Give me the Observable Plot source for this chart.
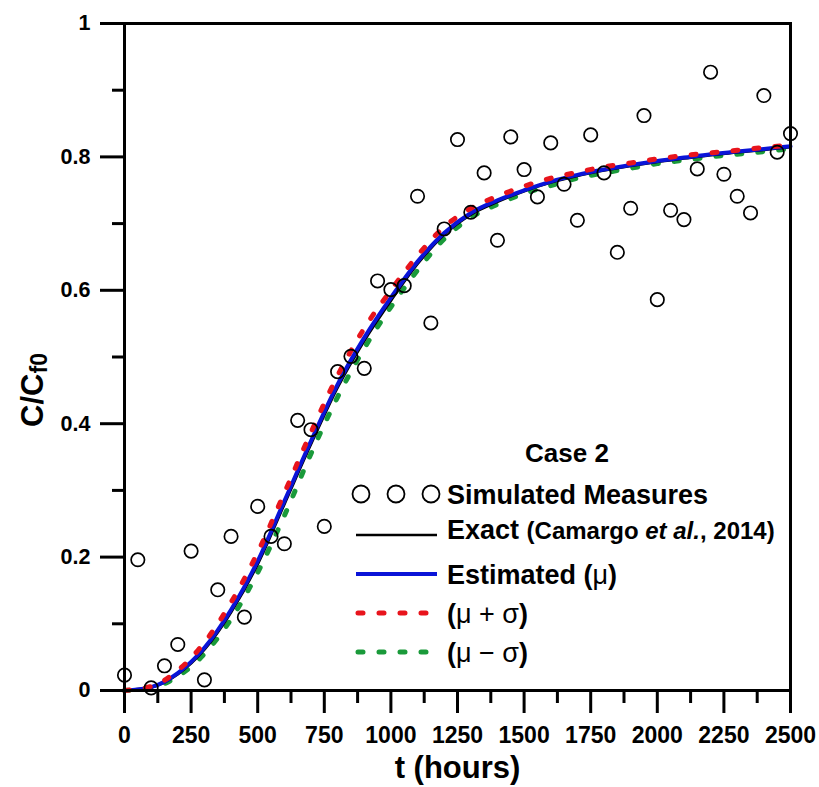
<!DOCTYPE html>
<html>
<head>
<meta charset="utf-8">
<script src="https://cdn.jsdelivr.net/npm/d3@7"></script>
<script src="https://cdn.jsdelivr.net/npm/@observablehq/plot@0.6"></script>
<style>
  html, body { margin: 0; padding: 0; background: #fff; }
</style>
</head>
<body>
<div id="chart"></div>
<script>
// ---- Data ----
const tMeasured = [0,50,100,150,200,250,300,350,400,450,500,550,600,650,700,750,800,850,900,950,1000,1050,1100,1150,1200,1250,1300,1350,1400,1450,1500,1550,1600,1650,1700,1750,1800,1850,1900,1950,2000,2050,2100,2150,2200,2250,2300,2350,2400,2450,2500];
const measured = [0.023,0.196,0.004,0.037,0.069,0.209,0.016,0.151,0.231,0.110,0.276,0.231,0.220,0.405,0.391,0.246,0.478,0.501,0.483,0.614,0.601,0.607,0.741,0.551,0.692,0.826,0.717,0.776,0.675,0.830,0.781,0.740,0.821,0.759,0.705,0.833,0.776,0.657,0.723,0.862,0.586,0.720,0.706,0.782,0.927,0.774,0.741,0.716,0.892,0.807,0.835];

const tCurve = [0,100,200,300,400,500,600,700,800,900,1000,1100,1200,1300,1400,1500,1600,1700,1800,1900,2000,2100,2200,2300,2400,2500];
const exact     = [0,0.005,0.025,0.062,0.118,0.190,0.280,0.370,0.455,0.525,0.585,0.640,0.684,0.714,0.733,0.749,0.762,0.772,0.780,0.787,0.793,0.798,0.803,0.807,0.811,0.815];
const estimated = [0,0.005,0.026,0.064,0.121,0.194,0.284,0.374,0.459,0.529,0.589,0.643,0.686,0.716,0.735,0.750,0.763,0.773,0.781,0.788,0.794,0.799,0.804,0.808,0.812,0.816];
const upper     = [0,0.006,0.030,0.072,0.132,0.207,0.296,0.387,0.472,0.543,0.600,0.652,0.695,0.723,0.741,0.756,0.768,0.777,0.785,0.791,0.797,0.802,0.806,0.810,0.814,0.818];
const lower     = [0,0.004,0.021,0.055,0.107,0.177,0.262,0.355,0.440,0.513,0.575,0.630,0.677,0.709,0.729,0.745,0.757,0.768,0.776,0.783,0.790,0.795,0.800,0.804,0.808,0.812];

const xMajor = [0,250,500,750,1000,1250,1500,1750,2000,2250,2500];
const xMinor = [125,375,625,875,1125,1375,1625,1875,2125,2375];
const yMajor = [0,0.2,0.4,0.6,0.8,1];
const yMinor = [0.1,0.3,0.5,0.7,0.9];

const points = tMeasured.map((t, i) => ({t, v: measured[i]}));
const curve = arr => tCurve.map((t, i) => ({t, v: arr[i]}));

const FONT = "'Liberation Sans', Arial, Helvetica, sans-serif";

const svg = Plot.plot({
  width: 819,
  height: 787,
  marginLeft: 124,
  marginRight: 29,
  marginTop: 23,
  marginBottom: 97,
  style: {fontFamily: FONT, fontWeight: "bold", color: "black", background: "white"},
  x: {domain: [0, 2500], label: null},
  y: {domain: [0, 1], label: null},
  marks: [
    Plot.line(curve(lower), {x: "t", y: "v", stroke: "#1a9a3a", strokeWidth: 5, strokeDasharray: "5,16", strokeLinecap: "round", curve: "monotone-x"}),
    Plot.line(curve(exact), {x: "t", y: "v", stroke: "black", strokeWidth: 3.2, curve: "monotone-x"}),
    Plot.line(curve(estimated), {x: "t", y: "v", stroke: "#0a14d8", strokeWidth: 4, curve: "monotone-x"}),
    Plot.line(curve(upper), {x: "t", y: "v", stroke: "#e8141c", strokeWidth: 5, strokeDasharray: "5,16", strokeLinecap: "round", curve: "monotone-x"}),
    Plot.dot(points, {x: "t", y: "v", r: 6.7, stroke: "black", strokeWidth: 1.7, fill: "none"}),
    Plot.axisX({ticks: xMajor, tickSize: 23, tickPadding: 13, strokeWidth: 3, fontSize: 23, tickFormat: d => String(d), label: null}),
    Plot.axisX({ticks: xMinor, tickSize: 13, strokeWidth: 3, tickFormat: () => "", label: null}),
    Plot.axisY({ticks: yMajor, tickSize: 24, tickPadding: 10, strokeWidth: 3, fontSize: 21.5, tickFormat: d => String(+d.toFixed(1)), label: null}),
    Plot.axisY({ticks: yMinor, tickSize: 12, strokeWidth: 3, tickFormat: () => "", label: null}),
    Plot.frame({stroke: "black", strokeWidth: 3}),
    Plot.text(["t (hours)"], {frameAnchor: "bottom", dy: 78, fontSize: 31, fontWeight: "bold", lineAnchor: "middle"})
  ]
});
document.getElementById("chart").append(svg);

const root = d3.select(svg);

// ---- Y axis title with sub-scripted f0 ----
const yt = root.append("text")
  .attr("transform", "translate(43,390) rotate(-90)")
  .attr("text-anchor", "middle")
  .attr("font-family", FONT)
  .attr("font-weight", "bold")
  .attr("fill", "black");
yt.append("tspan").attr("font-size", 31).text("C/C");
yt.append("tspan").attr("font-size", 23).attr("dy", 4).text("f0");

// ---- Legend ----
const lg = root.append("g").attr("font-family", FONT).attr("fill", "black").attr("text-anchor", "start");
const textX = 447;
lg.append("text").attr("x", 567).attr("y", 453).attr("dy", "0.36em").attr("text-anchor", "middle")
  .attr("font-size", 26).attr("font-weight", "bold").text("Case 2");

const rows = [494, 535, 574, 613, 652];
[361, 396, 431].forEach(cx => lg.append("circle").attr("cx", cx).attr("cy", rows[0]).attr("r", 8.5)
  .attr("fill", "none").attr("stroke", "black").attr("stroke-width", 1.8));
lg.append("text").attr("x", textX).attr("y", rows[0]).attr("dy", "0.36em").attr("font-size", 27).attr("font-weight", "bold").text("Simulated Measures");

lg.append("line").attr("x1", 356).attr("x2", 437).attr("y1", rows[1]).attr("y2", rows[1]).attr("stroke", "black").attr("stroke-width", 2.5);
const ex = lg.append("text").attr("x", textX).attr("y", rows[1]).attr("dy", "0.36em").attr("font-weight", "bold");
ex.append("tspan").attr("font-size", 27).text("Exact ");
ex.append("tspan").attr("font-size", 24).text("(Camargo ");
ex.append("tspan").attr("font-size", 24).attr("font-style", "italic").text("et al.");
ex.append("tspan").attr("font-size", 24).text(", 2014)");

lg.append("line").attr("x1", 356).attr("x2", 437).attr("y1", rows[2]).attr("y2", rows[2]).attr("stroke", "#0a14d8").attr("stroke-width", 4);
const es = lg.append("text").attr("x", textX).attr("y", rows[2]).attr("dy", "0.36em").attr("font-size", 27);
es.append("tspan").attr("font-weight", "bold").text("Estimated (");
es.append("tspan").attr("font-weight", "normal").text("μ");
es.append("tspan").attr("font-weight", "bold").text(")");

lg.append("line").attr("x1", 358).attr("x2", 437).attr("y1", rows[3]).attr("y2", rows[3]).attr("stroke", "#e8141c").attr("stroke-width", 5).attr("stroke-dasharray", "5,16").attr("stroke-linecap", "round");
const up = lg.append("text").attr("x", textX).attr("y", rows[3]).attr("dy", "0.36em").attr("font-size", 27);
up.append("tspan").attr("font-weight", "bold").text("(");
up.append("tspan").attr("font-weight", "normal").text("μ + σ");
up.append("tspan").attr("font-weight", "bold").text(")");

lg.append("line").attr("x1", 358).attr("x2", 437).attr("y1", rows[4]).attr("y2", rows[4]).attr("stroke", "#1a9a3a").attr("stroke-width", 5).attr("stroke-dasharray", "5,16").attr("stroke-linecap", "round");
const lo = lg.append("text").attr("x", textX).attr("y", rows[4]).attr("dy", "0.36em").attr("font-size", 27);
lo.append("tspan").attr("font-weight", "bold").text("(");
lo.append("tspan").attr("font-weight", "normal").text("μ − σ");
lo.append("tspan").attr("font-weight", "bold").text(")");
</script>
</body>
</html>
